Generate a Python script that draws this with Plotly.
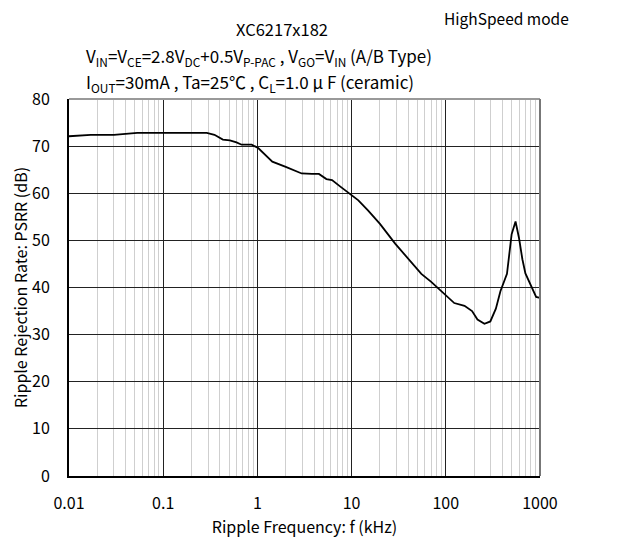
import plotly.graph_objects as go

# Ripple frequency (kHz) and PSRR (dB)
freq = [0.01, 0.017, 0.03, 0.053, 0.1, 0.2, 0.29, 0.35, 0.43, 0.51, 0.6, 0.68, 0.87,
        1.02, 1.2, 1.44, 2.0, 2.95, 3.8, 4.5, 5.4, 6.2, 7.6, 9.3, 11.8, 15, 20, 29,
        40, 55, 70, 89, 123, 158, 190, 217, 257, 297, 340, 380, 446, 500, 550, 600,
        650, 700, 830, 910, 1000]
psrr = [72.1, 72.4, 72.4, 72.8, 72.8, 72.8, 72.8, 72.4, 71.4, 71.2, 70.8, 70.3, 70.3,
        69.6, 68.2, 66.7, 65.6, 64.2, 64.1, 64.1, 63.0, 62.8, 61.4, 60.0, 58.5, 56.3, 53.5, 49.3,
        46.0, 42.9, 41.2, 39.2, 36.7, 36.1, 35.0, 33.2, 32.3, 32.8, 35.5, 39.2, 42.9, 51.3, 54.0, 50.4,
        46.0, 43.0, 39.6, 38.0, 37.8]

x_tickvals = [0.01, 0.1, 1, 10, 100, 1000]
x_ticktext = ['0.01', '0.1', '1', '10', '100', '1000']
y_tickvals = [0, 10, 20, 30, 40, 50, 60, 70, 80]

font = 'Noto Sans CJK JP, Noto Sans, sans-serif'

fig = go.Figure()
fig.add_trace(go.Scatter(x=freq, y=psrr, mode='lines',
                         line=dict(color='black', width=1.8), showlegend=False))

# page body adds an 8px offset, so margins are shifted to compensate
fig.update_layout(
    width=642, height=548,
    margin=dict(l=61, r=110, t=91, b=80),
    paper_bgcolor='white', plot_bgcolor='white',
    font=dict(family=font, size=16, color='black'),
)

fig.update_xaxes(
    type='log', range=[-2, 3], automargin=False,
    tickvals=x_tickvals, ticktext=x_ticktext,
    showgrid=True, gridcolor='#222', gridwidth=1,
    minor=dict(showgrid=True, gridcolor='#cfcfcf', gridwidth=1, dtick='D1'),
    showline=True, linecolor='black', linewidth=2,
    ticks='', ticklabelstandoff=12,
    title=dict(text='Ripple Frequency: f (kHz)', font=dict(size=16), standoff=8),
    zeroline=False,
)
fig.update_yaxes(
    range=[0, 80], tickvals=y_tickvals, automargin=False,
    showgrid=True, gridcolor='#222', gridwidth=1,
    showline=True, linecolor='black', linewidth=2,
    ticks='', ticklabelstandoff=14,
    title=dict(text='Ripple Rejection Rate: PSRR (dB)', font=dict(size=16), standoff=4),
    zeroline=False,
)

# grey top/right frame
fig.add_shape(type='line', xref='paper', yref='paper', x0=0, x1=1, y0=1, y1=1,
              line=dict(color='#999', width=2))
fig.add_shape(type='line', xref='paper', yref='paper', x0=1, x1=1, y0=0, y1=1,
              line=dict(color='#777', width=2))

fig.add_annotation(text='HighSpeed mode', xref='paper', yref='paper', x=0.928, y=1.214,
                   xanchor='center', yanchor='middle', showarrow=False, font=dict(size=15.5))
fig.add_annotation(text='XC6217x182', xref='paper', yref='paper', x=0.452, y=1.186,
                   xanchor='center', yanchor='middle', showarrow=False, font=dict(size=16.5))
fig.add_annotation(
    text='V<sub>IN</sub>=V<sub>CE</sub>=2.8V<sub>DC</sub>+0.5V<sub>P-PAC</sub> , V<sub>GO</sub>=V<sub>IN</sub> (A/B Type)',
    xref='paper', yref='paper', x=0.032, y=1.113, xanchor='left', yanchor='middle',
    showarrow=False, font=dict(size=17))
fig.add_annotation(
    text='I<sub>OUT</sub>=30mA , Ta=25℃ , C<sub>L</sub>=1.0 μ F (ceramic)',
    xref='paper', yref='paper', x=0.032, y=1.043, xanchor='left', yanchor='middle',
    showarrow=False, font=dict(size=17))

fig.write_html("out.html")
